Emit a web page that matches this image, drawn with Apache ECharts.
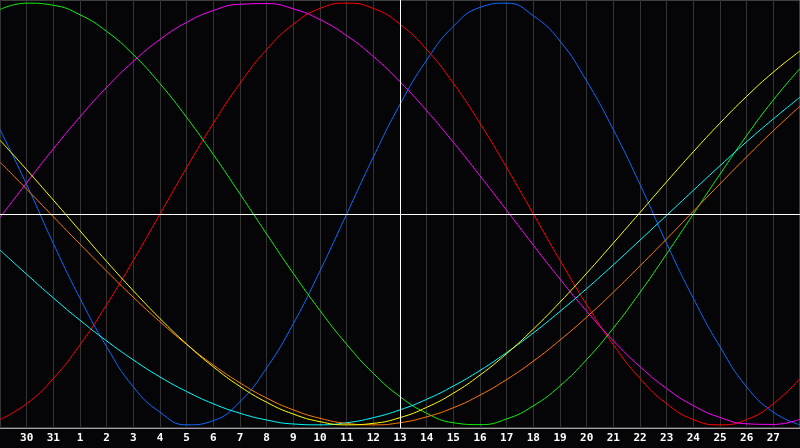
<!DOCTYPE html>
<html>
<head>
<meta charset="utf-8">
<script src="https://cdn.jsdelivr.net/npm/echarts@6/dist/echarts.min.js"></script>
<style>
  html, body { margin: 0; padding: 0; background: #050508; }
  #chart { width: 800px; height: 448px; }
</style>
</head>
<body>
<div id="chart"></div>
<script>
// days shown on the axis (first and last are off the labels)
const days = ['29', '30', '31', '1', '2', '3', '4', '5', '6', '7', '8', '9', '10', '11', '12',
  '13', '14', '15', '16', '17', '18', '19', '20', '21', '22', '23', '24', '25', '26', '27', '28']
const todayIndex = 15 // day 13

// cycle values in percent, one per day
const physical = [40, 14, -14, -40, -63, -82, -94, -100, -98, -89, -73, -52, -27, 0, 27, 52, 73, 89, 98, 100, 94, 82, 63, 40, 14, -14, -40, -63, -82, -94, -100]
const emotional = [-97.5, -90, -78, -62, -43, -22, 0, 22, 43, 62, 78, 90, 97.5, 100, 97.5, 90, 78, 62, 43, 22, 0, -22, -43, -62, -78, -90, -97.5, -100, -97.5, -90, -78]
const intellectual = [97, 100, 99, 94.5, 86.6, 75.6, 61.8, 45.8, 28.2, 9.5, -9.5, -28.2, -45.8, -61.8, -75.6, -86.6, -94.5, -99, -99.9, -97.2, -91, -81.5, -69, -54.1, -37.2, -18.9, 0, 18.9, 37.2, 54.1, 69]
const intuitive = [-1.7, 14.8, 30.9, 46.1, 60.1, 72.4, 82.8, 90.9, 96.5, 99.5, 99.8, 97.3, 92.2, 84.6, 74.7, 62.7, 49, 34, 18.1, 1.7, -14.8, -30.9, -46.1, -60.1, -72.4, -82.8, -90.9, -96.5, -99.5, -99.8, -97.3]
const aesthetic = [35, 21, 6.6, -8, -22.5, -36.4, -49.6, -61.7, -72.5, -81.8, -89.3, -94.9, -98.5, -100, -99.3, -96.6, -91.7, -85, -76.4, -66.2, -54.6, -41.8, -28.1, -13.8, 0.7, 15.3, 29.5, 43.1, 55.8, 67.3, 77.3]
const awareness = [24.6, 11.8, -1.3, -14.3, -27.1, -39.5, -51.1, -61.9, -71.6, -80.1, -87.3, -92.9, -96.9, -99.3, -100, -99, -96.2, -91.9, -85.9, -78.5, -69.8, -59.8, -48.9, -37.1, -24.6, -11.8, 1.3, 14.3, 27.1, 39.5, 51.1]
const spiritual = [-17.1, -28.6, -39.8, -50.4, -60.2, -69.2, -77.3, -84.2, -90, -94.5, -97.7, -99.6, -100, -99, -96.6, -92.9, -87.9, -81.6, -74.2, -65.7, -56.4, -46.2, -35.4, -24.1, -12.4, -0.6, 11.2, 22.9, 34.3, 45.1, 55.4]

const cycles = [
  { name: 'Physical', data: physical, color: '#0a6cff' },
  { name: 'Emotional', data: emotional, color: '#ff0000' },
  { name: 'Intellectual', data: intellectual, color: '#10f010' },
  { name: 'Intuitive', data: intuitive, color: '#ff00ff' },
  { name: 'Spiritual', data: spiritual, color: '#00ffff' },
  { name: 'Awareness', data: awareness, color: '#ff7a00' },
  { name: 'Aesthetic', data: aesthetic, color: '#ffff00' }
]

const myChart = echarts.init(document.getElementById('chart'))

const series = cycles.map(c => ({
  name: c.name,
  type: 'line',
  data: c.data.map((v, i) => [i, v]),
  smooth: true,
  symbol: 'none',
  lineStyle: { color: c.color, width: 1 },
  z: 3
}))

// today and zero lines
series.push({
  type: 'line',
  data: [],
  markLine: {
    silent: true,
    symbol: 'none',
    label: { show: false },
    lineStyle: { color: '#ffffff', width: 1, type: 'solid' },
    data: [{ xAxis: todayIndex }, { yAxis: 0 }]
  },
  z: 2
})

myChart.setOption({
  backgroundColor: '#050508',
  animation: false,
  grid: {
    left: 0,
    right: 0,
    top: 0,
    bottom: 20,
    show: true,
    borderColor: '#7a7a7a',
    borderWidth: 1,
    backgroundColor: 'transparent'
  },
  xAxis: {
    type: 'value',
    min: 0,
    max: days.length - 1,
    interval: 1,
    axisLine: { onZero: false, lineStyle: { color: '#a0a0a0' } },
    axisTick: { show: false },
    axisLabel: {
      margin: 5,
      color: '#ffffff',
      fontFamily: 'DejaVu Sans Mono',
      fontWeight: 'bold',
      fontSize: 11,
      showMinLabel: false,
      showMaxLabel: false,
      formatter: v => (v <= 0 || v >= days.length - 1) ? '' : days[v]
    },
    splitLine: { show: true, lineStyle: { color: '#343434', width: 1 } }
  },
  yAxis: {
    type: 'value',
    min: -101.5,
    max: 101.5,
    show: false,
    splitLine: { show: false }
  },
  series: series
})
</script>
</body>
</html>
